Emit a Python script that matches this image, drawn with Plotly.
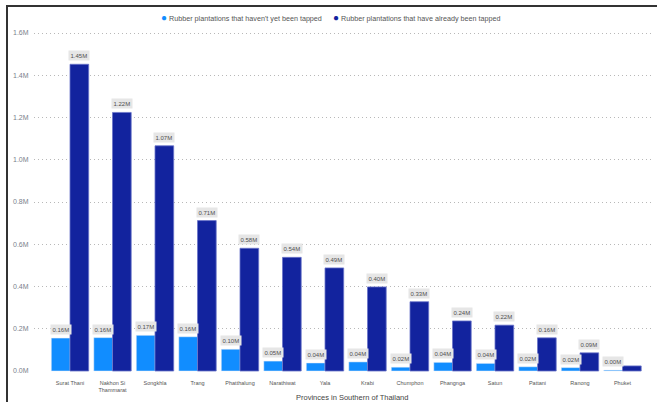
import plotly.graph_objects as go

# Provinces and plantation areas (millions)
provinces = ["Surat Thani", "Nakhon Si<br>Thammarat", "Songkhla", "Trang", "Phatthalung",
             "Narathiwat", "Yala", "Krabi", "Chumphon", "Phangnga", "Satun", "Pattani",
             "Ranong", "Phuket"]
not_tapped = [0.156, 0.158, 0.169, 0.162, 0.103, 0.047, 0.038, 0.043, 0.018, 0.041,
              0.036, 0.02, 0.016, 0.004]
tapped = [1.452, 1.224, 1.066, 0.712, 0.581, 0.538, 0.488, 0.398, 0.328, 0.237,
          0.217, 0.157, 0.086, 0.024]
show_tapped_label = [True] * 13 + [False]

y_ticks = [0.0, 0.2, 0.4, 0.6, 0.8, 1.0, 1.2, 1.4, 1.6]
y_tick_text = [f"{v:.1f}M" for v in y_ticks]

name_not = "Rubber plantations that haven't yet been tapped"
name_tap = "Rubber plantations that have already been tapped"
c_not = "#118DFF"
c_tap = "#12239E"
FONT = "Liberation Sans, Arial, sans-serif"

W, H = 657, 402
L, R, T, B = 34, 5, 30, 30
plot_w = W - L - R
plot_h = H - T - B


def px(x):
    return (x - L) / plot_w


def py(y):
    return (H - B - y) / plot_h


idx = list(range(len(provinces)))
bw = 0.44

fig = go.Figure()
fig.add_trace(go.Bar(x=idx, y=not_tapped, name=name_not, marker_color=c_not,
                     width=bw, offset=-bw, showlegend=False))
fig.add_trace(go.Bar(x=idx, y=tapped, name=name_tap, marker_color=c_tap,
                     marker_line=dict(color="#6b75c9", width=0.8),
                     width=bw, offset=0, showlegend=False))

annotations = []
label_style = dict(showarrow=False, yanchor="bottom", yshift=3, bgcolor="#E6E6E6",
                   borderpad=1.5, font=dict(family=FONT, size=6, color="#505050"))
for i in idx:
    annotations.append(dict(x=i - bw / 2, y=not_tapped[i], xref="x", yref="y",
                            text=f"{not_tapped[i]:.2f}M", **label_style))
    if show_tapped_label[i]:
        annotations.append(dict(x=i + bw / 2, y=tapped[i], xref="x", yref="y",
                                text=f"{tapped[i]:.2f}M", **label_style))

# Legend row
for x0, col, name in [(159, c_not, name_not), (331, c_tap, name_tap)]:
    annotations.append(dict(
        x=px(x0), y=py(18), xref="paper", yref="paper", xanchor="left", yanchor="middle",
        showarrow=False,
        text=f"<span style='color:{col};font-size:10px'>●</span> {name}",
        font=dict(family=FONT, size=7.2, color="#555555")))

# Axis title
annotations.append(dict(x=px(352), y=py(397), xref="paper", yref="paper",
                        xanchor="center", yanchor="middle", showarrow=False,
                        text="Provinces in Southern of Thailand",
                        font=dict(family=FONT, size=7.5, color="#444444")))

shapes = [
    dict(type="line", xref="paper", yref="paper", x0=px(7), x1=px(7), y0=py(6), y1=py(403),
         line=dict(color="#333333", width=2)),
    dict(type="line", xref="paper", yref="paper", x0=px(6), x1=px(658), y0=py(6), y1=py(6),
         line=dict(color="#333333", width=2)),
]

fig.update_layout(
    width=W, height=H,
    margin=dict(l=L, r=R, t=T, b=B),
    paper_bgcolor="white", plot_bgcolor="white",
    bargap=0.12,
    annotations=annotations,
    shapes=shapes,
    xaxis=dict(
        tickmode="array", tickvals=idx, ticktext=provinces,
        range=[(L - 70) / 42.5, 13 + (W - R - 622.5) / 42.5],
        showgrid=False, zeroline=False, showline=False,
        ticks="outside", ticklen=5, tickcolor="rgba(0,0,0,0)",
        tickfont=dict(family=FONT, size=5.5, color="#555555"),
    ),
    yaxis=dict(
        range=[-0.0047, 1.6142], tickmode="array", tickvals=y_ticks, ticktext=y_tick_text,
        showgrid=True, gridcolor="#B8B8B8", griddash="1px,3px", gridwidth=1,
        zeroline=False, showline=False,
        tickfont=dict(family=FONT, size=7, color="#7a7f8c"),
        ticks="outside", ticklen=3, tickcolor="rgba(0,0,0,0)",
    ),
)

fig.write_html("out.html")
